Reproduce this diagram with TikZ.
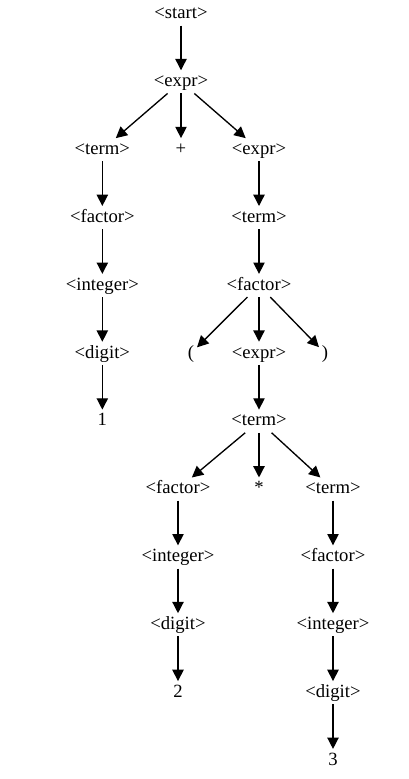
\documentclass[tikz,border=0pt]{standalone}
\usepackage{fontspec}
\setmainfont{Liberation Serif}
\usetikzlibrary{arrows.meta,positioning}

\begin{document}
\begin{tikzpicture}[
  x=0.75pt, y=0.75pt,
  node distance=33.5pt,
  sym/.style={inner sep=2pt, text height=10pt, text depth=3pt, font=\fontsize{14}{16}\selectfont},
  arrow/.style={-{Triangle[length=8.5pt,width=8.5pt]}, line width=1pt}
]
\useasboundingbox (0,0) rectangle (408,-779);
\node[sym] (start) at (181,-14) {<start>};
\node[sym, below=of start] (expr1) {<expr>};
\node[sym, below=of expr1, xshift=-59pt] (term1) {<term>};
\node[sym, below=of expr1] (plus) {+};
\node[sym, below=of expr1, xshift=58.5pt] (expr2) {<expr>};
\node[sym, below=of term1] (factor1) {<factor>};
\node[sym, below=of expr2] (term2) {<term>};
\node[sym, below=of factor1] (integer1) {<integer>};
\node[sym, below=of term2] (factor2) {<factor>};
\node[sym, below=of integer1] (digit1) {<digit>};
\node[sym, below=of factor2, xshift=-51pt] (lpar) {(};
\node[sym, below=of factor2] (expr3) {<expr>};
\node[sym, below=of factor2, xshift=49.5pt] (rpar) {)};
\node[sym, below=of digit1] (one) {1};
\node[sym, below=of expr3] (term3) {<term>};
\node[sym, below=of term3, xshift=-60.75pt] (factor3) {<factor>};
\node[sym, below=of term3] (star) {*};
\node[sym, below=of term3, xshift=55.5pt] (term4) {<term>};
\node[sym, below=of factor3] (integer2) {<integer>};
\node[sym, below=of term4] (factor4) {<factor>};
\node[sym, below=of integer2] (digit2) {<digit>};
\node[sym, below=of factor4] (integer3) {<integer>};
\node[sym, below=of digit2] (two) {2};
\node[sym, below=of integer3] (digit3) {<digit>};
\node[sym, below=of digit3] (three) {3};

\draw[arrow] (start) -- (expr1);
\draw[arrow] (expr1) -- (term1);
\draw[arrow] (expr1) -- (plus);
\draw[arrow] (expr1) -- (expr2);
\draw[arrow] (term1) -- (factor1);
\draw[arrow] (factor1) -- (integer1);
\draw[arrow] (integer1) -- (digit1);
\draw[arrow] (digit1) -- (one);
\draw[arrow] (expr2) -- (term2);
\draw[arrow] (term2) -- (factor2);
\draw[arrow] (factor2) -- (lpar);
\draw[arrow] (factor2) -- (expr3);
\draw[arrow] (factor2) -- (rpar);
\draw[arrow] (expr3) -- (term3);
\draw[arrow] (term3) -- (factor3);
\draw[arrow] (term3) -- (star);
\draw[arrow] (term3) -- (term4);
\draw[arrow] (factor3) -- (integer2);
\draw[arrow] (integer2) -- (digit2);
\draw[arrow] (digit2) -- (two);
\draw[arrow] (term4) -- (factor4);
\draw[arrow] (factor4) -- (integer3);
\draw[arrow] (integer3) -- (digit3);
\draw[arrow] (digit3) -- (three);
\end{tikzpicture}
\end{document}
